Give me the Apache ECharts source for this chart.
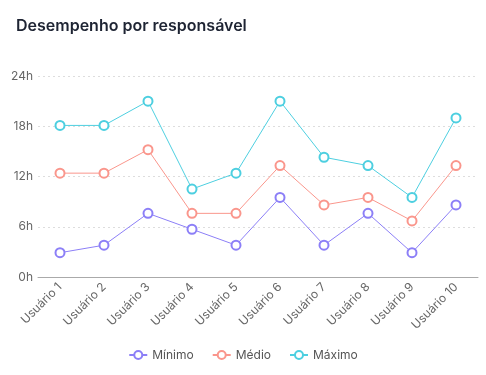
<!DOCTYPE html>
<html>
<head>
<meta charset="utf-8">
<script src="https://cdn.jsdelivr.net/npm/echarts@6/dist/echarts.min.js"></script>
<style>
  html, body { margin: 0; padding: 0; background: #fff; }
  #chart { width: 486px; height: 375px; }
</style>
</head>
<body>
<div id="chart"></div>
<script>
// dados (horas)
var usuarios = ['Usuário 1', 'Usuário 2', 'Usuário 3', 'Usuário 4', 'Usuário 5', 'Usuário 6', 'Usuário 7', 'Usuário 8', 'Usuário 9', 'Usuário 10']
var minimo = [2.9, 3.8, 7.6, 5.7, 3.8, 9.5, 3.8, 7.6, 2.9, 8.6]
var medio = [12.4, 12.4, 15.2, 7.6, 7.6, 13.3, 8.6, 9.5, 6.7, 13.3]
var maximo = [18.1, 18.1, 21, 10.5, 12.4, 21, 14.3, 13.3, 9.5, 19]

var fonte = 'Inter, "Noto Sans", sans-serif'
var chart = echarts.init(document.getElementById('chart'))

function serie(nome, dados, cor) {
  return {
    name: nome,
    type: 'line',
    data: dados,
    symbol: 'emptyCircle',
    symbolSize: 9,
    lineStyle: { width: 1, color: cor },
    itemStyle: { color: cor, borderWidth: 1 },
    animation: false
  }
}

chart.setOption({
  textStyle: { fontFamily: fonte },
  title: {
    text: 'Desempenho por responsável',
    left: 16,
    top: 18,
    padding: 0,
    textStyle: { fontSize: 16, fontWeight: 600, color: '#1e2433', fontFamily: fonte }
  },
  color: ['#8c7ff7', '#fa968c', '#4dcfe0'],
  grid: { left: 38, right: 8, top: 76, bottom: 98 },
  legend: {
    bottom: 9,
    itemGap: 18,
    itemWidth: 18,
    itemHeight: 10,
    textStyle: { fontSize: 12, color: '#555', fontFamily: fonte },
    data: ['Mínimo', 'Médio', 'Máximo']
  },
  xAxis: {
    type: 'category',
    data: usuarios,
    boundaryGap: true,
    axisLine: { lineStyle: { color: '#aaa' } },
    axisTick: { show: false },
    axisLabel: { rotate: 45, fontSize: 12, color: '#666', margin: 8, fontFamily: fonte }
  },
  yAxis: {
    type: 'value',
    min: 0,
    max: 24,
    interval: 6,
    axisLabel: { formatter: '{value}h', fontSize: 12, color: '#666', margin: 5, fontFamily: fonte },
    splitLine: { lineStyle: { color: '#ddd', type: [2, 3] } }
  },
  series: [
    serie('Mínimo', minimo, '#8c7ff7'),
    serie('Médio', medio, '#fa968c'),
    serie('Máximo', maximo, '#4dcfe0')
  ]
})
</script>
</body>
</html>
